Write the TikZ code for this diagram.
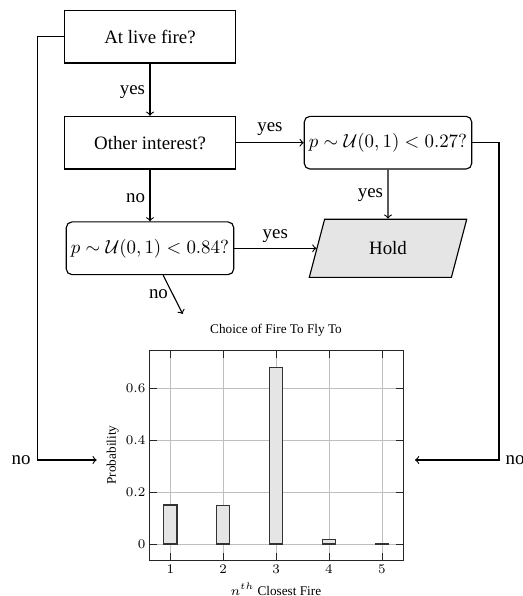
\documentclass[tikz,border=0pt]{standalone}
\usepackage[no-math]{fontspec}
\setmainfont{Liberation Serif}
\usetikzlibrary{shapes.geometric}
\begin{document}
\begin{tikzpicture}[x=0.5291pt,y=-0.5291pt,>=to,
  txt/.style={font=\fontsize{10}{12}\selectfont},
  small/.style={font=\fontsize{7}{8.5}\selectfont},
  box/.style={txt,draw,semithick,minimum width=90.5pt,minimum height=27.9pt,inner sep=0pt},
  rbox/.style={box,rounded corners=3pt,minimum width=88.6pt},
  iobox/.style={txt,draw,semithick,fill=black!10,trapezium,trapezium left angle=71,trapezium right angle=109,trapezium stretches=true,minimum width=83.4pt,minimum height=30.8pt,inner sep=0pt},
  conn/.style={->,semithick},
  gridline/.style={black!25,line width=0.4pt},
  bar/.style={draw=black!80,fill=black!10,line width=0.7pt}]
\useasboundingbox (0,0) rectangle (522,596);

% flowchart nodes
\node[box]  (live)  at (150,36.7)  {At live fire?};
\node[box]  (other) at (150,142.7) {Other interest?};
\node[rbox] (p27)   at (388,142.7) {$p\sim\mathcal{U}(0,1)<0.27?$};
\node[rbox] (p84)   at (150,248.3) {$p\sim\mathcal{U}(0,1)<0.84?$};
\node[iobox] (hold) at (388,248.3) {Hold};

\coordinate (cl) at (37.3,460);
\coordinate (chartL) at (96.7,460);
\coordinate (cr) at (499,460);
\coordinate (chartR) at (415,460);
\coordinate (chartT) at (182.7,314);

% connectors
\draw[conn] (live) -- node[txt,left,xshift=1pt,yshift=-1.2pt]{yes} (other);
\draw[conn] (other) -- node[txt,above]{yes} (p27);
\draw[conn] (p27) -- node[txt,left,xshift=1pt,yshift=-0.5pt]{yes} (hold);
\draw[conn] (other) -- node[txt,left,xshift=1pt,yshift=-1.5pt]{no} (p84);
\draw[conn] (p84) -- node[txt,above,yshift=-0.5pt]{yes} (hold);
\draw[conn] (p84.-64) -- node[txt,left,xshift=1pt]{no} (chartT);
\draw[conn] (live.west) -| (cl) -- (chartL);
\node[txt,anchor=east] (nol) at (cl) {no};
\draw[conn] (p27.east) -| (cr) -- (chartR);
\node[txt,anchor=west] (nor) at (cr) {no};

% chart
\node[small] (title) at (276,330.7) {Choice of Fire To Fly To};
\begin{scope}[shift={(117.4,544)},x=27.99pt,y=137.04pt]
  \foreach \i in {1,...,5} \draw[gridline] (\i,-0.0645) -- (\i,0.748);
  \foreach \v in {0,0.2,0.4,0.6} \draw[gridline] (0.6,\v) -- (5.4,\v);
  \foreach \i in {1,...,5} {
    \draw[black!85,line width=0.4pt] (\i,-0.0645) -- ++(0,4pt);
    \draw[black!85,line width=0.4pt] (\i,0.748) -- ++(0,-4pt);
  }
  \foreach \v in {0,0.2,0.4,0.6} {
    \draw[black!85,line width=0.4pt] (0.6,\v) -- ++(4pt,0);
    \draw[black!85,line width=0.4pt] (5.4,\v) -- ++(-4pt,0);
  }
  \draw[bar] (0.875,0) rectangle (1.125,0.1506);
  \draw[bar] (1.875,0) rectangle (2.125,0.149);
  \draw[bar] (2.875,0) rectangle (3.125,0.682);
  \draw[bar] (3.875,0) rectangle (4.125,0.018);
  \draw[bar] (4.875,0) rectangle (5.125,0.002);
  \draw[black!85,line width=0.6pt] (0.6,-0.0645) rectangle (5.4,0.748);
\end{scope}
\foreach \i in {1,...,5} \node[small] (xt\i) at ({117.4+52.9*\i},569.3) {$\i$};
\foreach \v/\n in {0/0,0.2/2,0.4/4,0.6/6} \node[small,anchor=east,inner sep=0pt] (yt\n) at (145.8,{544-259*\v}) {$\v$};
\node[small,rotate=90] (ylab) at (112.7,455) {Probability};
\node[small] (xlab) at (276,589.3) {$n^{th}$ Closest Fire};
\end{tikzpicture}
\end{document}
